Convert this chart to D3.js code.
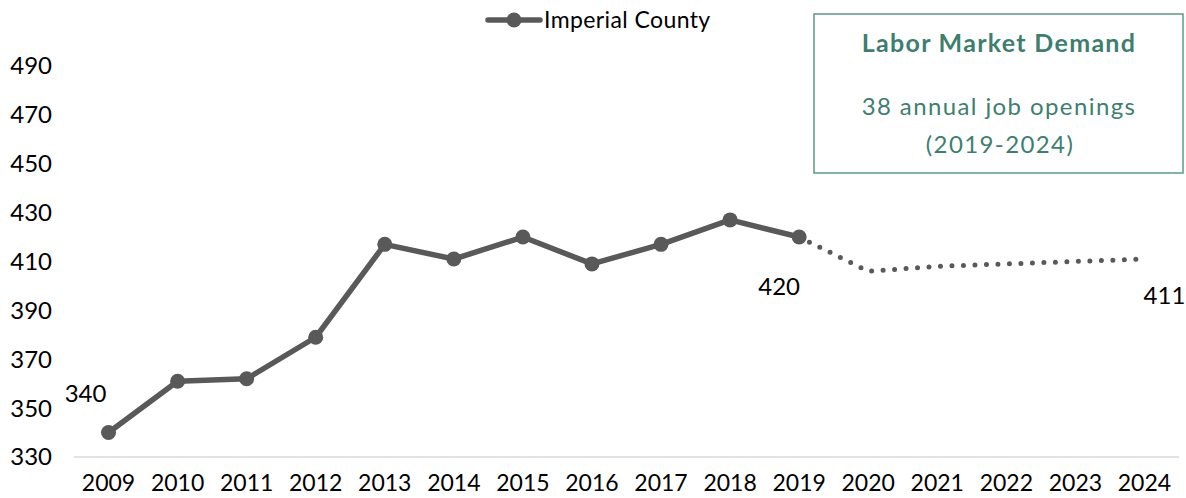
<!DOCTYPE html>
<html lang="en">
<head>
  <meta charset="UTF-8">
  <title>Imperial County</title>
  <script src="https://d3js.org/d3.v7.min.js"></script>
  <style>
    body {
      margin: 0;
      padding: 0;
      background: #fff;
    }
    svg {
      display: block;
      font-family: Lato, sans-serif;
    }
  </style>
</head>
<body>
<svg id="chart" width="1186" height="498"></svg>

<script>
// data
const years = ["2009","2010","2011","2012","2013","2014","2015","2016","2017","2018","2019","2020","2021","2022","2023","2024"];
const actual = [340, 361, 362, 379, 417, 411, 420, 409, 417, 427, 420];
const projYears = ["2019","2020","2021","2022","2023","2024"];
const projected = [420, 406, 408, 409, 410, 411];
const yTicks = [330, 350, 370, 390, 410, 430, 450, 470, 490];
const pointLabels = [
  {year: "2009", value: 340, text: "340"},
  {year: "2019", value: 420, text: "420"},
  {year: "2024", value: 411, text: "411"}
];

const svg = d3.select("#chart");
const lineColor = "#595959";
const green = "#3d7f6f";

const x = d3.scaleBand().domain(years).range([74, 1179]);
const y = d3.scaleLinear().domain([330, 500]).range([457, 41.5]);
const cx = d => x(d) + x.bandwidth() / 2;

// y tick labels (no axis line)
svg.append("g").selectAll("text")
  .data(yTicks)
  .enter().append("text")
  .attr("x", 52)
  .attr("y", d => y(d))
  .attr("dy", "0.35em")
  .attr("text-anchor", "end")
  .style("font-size", "24px")
  .attr("fill", "#000")
  .text(d => d);

// baseline
svg.append("line")
  .attr("x1", 74).attr("x2", 1179)
  .attr("y1", y(330)).attr("y2", y(330))
  .attr("stroke", "#d9d9d9")
  .attr("stroke-width", 1.5);

// x labels
svg.append("g").selectAll("text")
  .data(years)
  .enter().append("text")
  .attr("x", d => cx(d))
  .attr("y", 491)
  .attr("text-anchor", "middle")
  .style("font-size", "23px")
  .attr("fill", "#000")
  .text(d => d);

const actualPts = years.slice(0, actual.length).map((yr, i) => ({year: yr, value: actual[i]}));
const projPts = projYears.map((yr, i) => ({year: yr, value: projected[i]}));

const line = d3.line().x(d => cx(d.year)).y(d => y(d.value));

svg.append("path")
  .datum(projPts)
  .attr("d", line)
  .attr("fill", "none")
  .attr("stroke", lineColor)
  .attr("stroke-width", 5)
  .attr("stroke-linecap", "round")
  .attr("stroke-dasharray", "0 11.5");

svg.append("path")
  .datum(actualPts)
  .attr("d", line)
  .attr("fill", "none")
  .attr("stroke", lineColor)
  .attr("stroke-width", 5.5)
  .attr("stroke-linejoin", "round");

svg.append("g").selectAll("circle")
  .data(actualPts)
  .enter().append("circle")
  .attr("cx", d => cx(d.year))
  .attr("cy", d => y(d.value))
  .attr("r", 7.5)
  .attr("fill", lineColor);

// data labels
const labelOffsets = {"2009": [-23, -39], "2019": [-20, 50], "2024": [20, 37]};
svg.append("g").selectAll("text")
  .data(pointLabels)
  .enter().append("text")
  .attr("x", d => cx(d.year) + labelOffsets[d.year][0])
  .attr("y", d => y(d.value) + labelOffsets[d.year][1])
  .attr("dy", "0.35em")
  .attr("text-anchor", "middle")
  .style("font-size", "24px")
  .attr("fill", "#000")
  .text(d => d.text);

// legend
const lg = svg.append("g");
lg.append("line")
  .attr("x1", 488).attr("x2", 540)
  .attr("y1", 20).attr("y2", 20)
  .attr("stroke", lineColor)
  .attr("stroke-width", 5.5)
  .attr("stroke-linecap", "round");
lg.append("circle")
  .attr("cx", 514).attr("cy", 20).attr("r", 7.5)
  .attr("fill", lineColor);
lg.append("text")
  .attr("x", 544).attr("y", 20)
  .attr("dy", "0.35em")
  .style("font-size", "23px")
  .style("letter-spacing", "0.4px")
  .attr("fill", "#000")
  .text("Imperial County");

// info box
const box = svg.append("g");
box.append("rect")
  .attr("x", 814).attr("y", 14)
  .attr("width", 369).attr("height", 159)
  .attr("fill", "#fff")
  .attr("stroke", "#5b9a8a")
  .attr("stroke-width", 1.5);
box.append("text")
  .attr("x", 999).attr("y", 43)
  .attr("dy", "0.35em")
  .attr("text-anchor", "middle")
  .style("font-size", "25px")
  .style("font-weight", "bold")
  .style("letter-spacing", "1.3px")
  .attr("fill", green)
  .text("Labor Market Demand");
box.append("text")
  .attr("x", 999).attr("y", 107)
  .attr("dy", "0.35em")
  .attr("text-anchor", "middle")
  .style("font-size", "24px")
  .style("letter-spacing", "1.4px")
  .attr("fill", green)
  .text("38 annual job openings");
box.append("text")
  .attr("x", 1000).attr("y", 145)
  .attr("dy", "0.35em")
  .attr("text-anchor", "middle")
  .style("font-size", "24px")
  .style("letter-spacing", "1.4px")
  .attr("fill", green)
  .text("(2019-2024)");
</script>
</body>
</html>
